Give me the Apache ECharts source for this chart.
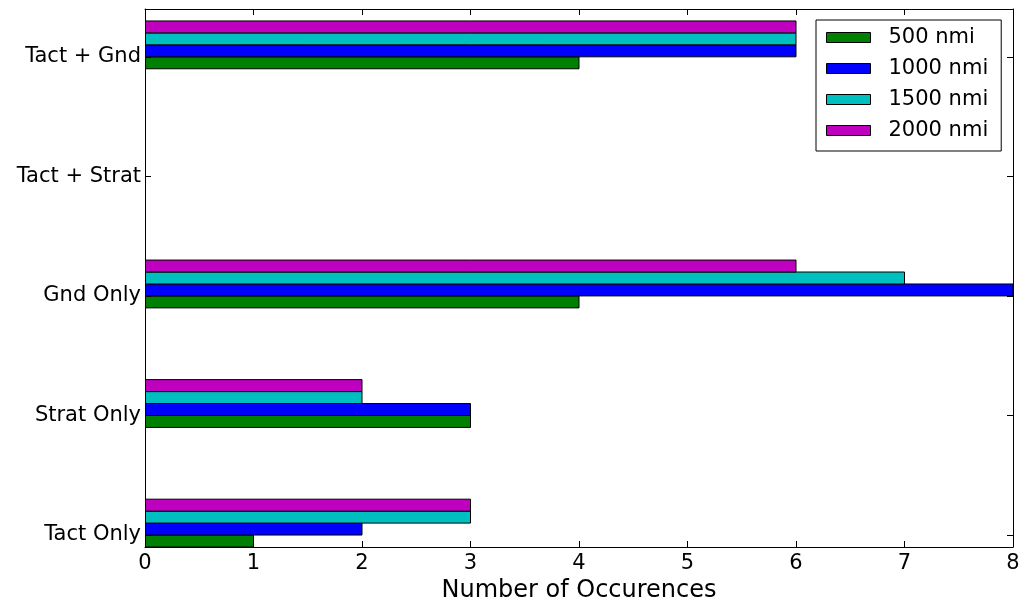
<!DOCTYPE html>
<html><head><meta charset="utf-8">
<script src="https://cdn.jsdelivr.net/npm/echarts@6/dist/echarts.min.js"></script>
<style>html,body{margin:0;padding:0;background:#fff}#c{width:1019px;height:599px}</style>
</head><body><div id="c"></div>
<script>
const categories = ['Tact Only', 'Strat Only', 'Gnd Only', 'Tact + Strat', 'Tact + Gnd'];
const seriesNames = ['500 nmi', '1000 nmi', '1500 nmi', '2000 nmi'];
const values500 = [1, 3, 4, 0, 4];
const values1000 = [2, 3, 8, 0, 6];
const values1500 = [3, 2, 7, 0, 6];
const values2000 = [3, 2, 6, 0, 6];
const xTicks = [0, 1, 2, 3, 4, 5, 6, 7, 8];

const colors = ['#008000', '#0000ff', '#00bfbf', '#bf00bf'];
const allValues = [values500, values1000, values1500, values2000];
const barH = 0.1;
const tickPos = categories.map((c, i) => i + barH);
const FONT = 'DejaVu Sans';

const chart = echarts.init(document.getElementById('c'), null, { renderer: 'canvas' });

const series = allValues.map((vals, s) => ({
  type: 'custom',
  name: seriesNames[s],
  xAxisIndex: 0,
  yAxisIndex: 0,
  clip: true,
  z: 2,
  itemStyle: { color: colors[s], borderColor: '#000', borderWidth: 1 },
  data: vals.map((v, i) => [v, i + s * barH]),
  encode: { x: 0, y: 1 },
  renderItem: (params, api) => {
    const v = api.value(0), y = api.value(1);
    const p0 = api.coord([0, y]);
    const p1 = api.coord([v, y + barH]);
    return {
      type: 'rect',
      shape: { x: p0[0], y: p1[1], width: p1[0] - p0[0], height: p0[1] - p1[1] },
      style: { fill: colors[s], stroke: '#000', lineWidth: 1 }
    };
  }
}));

function axisLine() { return { show: true, onZero: false, lineStyle: { color: '#000', width: 1 } }; }
function ticks(extra) {
  return Object.assign({ show: true, inside: true, length: 6, lineStyle: { color: '#000', width: 1 } }, extra || {});
}

chart.setOption({
  animation: false,
  backgroundColor: '#fff',
  textStyle: { fontFamily: FONT },
  grid: { left: 145, right: 6, top: 9, bottom: 52, containLabel: false, outerBoundsMode: 'none' },
  legend: {
    orient: 'vertical',
    left: 816,
    top: 20,
    padding: [7, 13, 10, 10],
    borderColor: '#000',
    borderWidth: 1,
    backgroundColor: '#fff',
    itemWidth: 44,
    itemHeight: 10,
    itemGap: 10,
    icon: 'rect',
    data: seriesNames,
    itemStyle: { borderColor: '#000', borderWidth: 1 },
    textStyle: { fontFamily: FONT, fontSize: 21, color: '#000', padding: [0, 0, 0, 13] }
  },
  xAxis: [
    {
      type: 'value', min: xTicks[0], max: xTicks[xTicks.length - 1], interval: 1, position: 'bottom',
      axisLine: axisLine(), axisTick: ticks(), splitLine: { show: false },
      axisLabel: { fontFamily: FONT, fontSize: 21, color: '#000', margin: 6 },
      name: 'Number of Occurences', nameLocation: 'middle', nameGap: 27,
      nameTextStyle: { fontFamily: FONT, fontSize: 24, color: '#000' },
      z: 5
    },
    {
      type: 'value', min: xTicks[0], max: xTicks[xTicks.length - 1], interval: 1, position: 'top',
      axisLine: axisLine(), axisTick: ticks(), splitLine: { show: false },
      axisLabel: { show: false },
      z: 5
    }
  ],
  yAxis: [
    {
      type: 'value', min: 0, max: 4.5, position: 'left',
      axisLine: axisLine(), splitLine: { show: false },
      axisTick: ticks({ customValues: tickPos }),
      axisLabel: {
        customValues: tickPos, fontFamily: FONT, fontSize: 21, color: '#000', margin: 4,
        formatter: v => categories[Math.round(v - barH)] || ''
      },
      z: 5
    },
    {
      type: 'value', min: 0, max: 4.5, position: 'right',
      axisLine: axisLine(), splitLine: { show: false },
      axisTick: ticks({ customValues: tickPos }),
      axisLabel: { show: false },
      z: 5
    }
  ],
  series: series
});
</script>
</body></html>
